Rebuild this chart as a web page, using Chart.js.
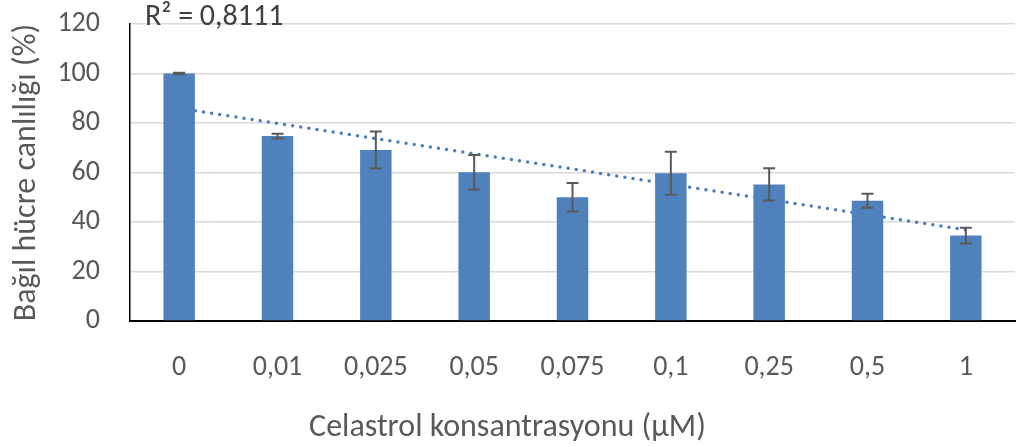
<!DOCTYPE html>
<html>
<head>
<meta charset="utf-8">
<script src="https://cdn.jsdelivr.net/npm/chart.js@4.4.1/dist/chart.umd.min.js"></script>
<style>
  html, body { margin: 0; padding: 0; background: #fff; }
</style>
</head>
<body>
<canvas id="viability" width="1025" height="447"></canvas>
<script>
// Celastrol dose vs relative viability

const concentrations = ['0', '0,01', '0,025', '0,05', '0,075', '0,1', '0,25', '0,5', '1'];
const viability = [100, 74.7, 69.1, 60.1, 50.0, 59.7, 55.2, 48.6, 34.5];
const viabilityErr = [0.3, 1.0, 7.5, 7.0, 5.8, 8.7, 6.5, 2.8, 3.2];
const trendEnds = [86.0, 36.8];   // linear trendline, first and last category
const yTicks = [0, 20, 40, 60, 80, 100, 120];
const rSquared = 'R² = 0,8111';

const fontFamily = "Carlito, Lato, 'Open Sans', sans-serif";
const textColor = '#595959';
const barBlue = '#4f81bd';

// whiskers on top of the bars
const errorBars = {
  id: 'errorBars',
  afterDatasetsDraw(chart) {
    const meta = chart.getDatasetMeta(0);
    const y = chart.scales.y;
    const ctx = chart.ctx;
    ctx.save();
    ctx.strokeStyle = '#595959';
    ctx.lineWidth = 2;
    meta.data.forEach((bar, i) => {
      const top = y.getPixelForValue(viability[i] + viabilityErr[i]);
      const bot = y.getPixelForValue(viability[i] - viabilityErr[i]);
      ctx.beginPath();
      ctx.moveTo(bar.x, top);
      ctx.lineTo(bar.x, bot);
      ctx.moveTo(bar.x - 6, top);
      ctx.lineTo(bar.x + 6, top);
      ctx.moveTo(bar.x - 6, bot);
      ctx.lineTo(bar.x + 6, bot);
      ctx.stroke();
    });
    ctx.restore();
  }
};

const rLabel = {
  id: 'rLabel',
  afterDraw(chart) {
    const ctx = chart.ctx;
    ctx.save();
    ctx.font = '30px ' + fontFamily;
    ctx.fillStyle = '#404040';
    ctx.textBaseline = 'middle';
    ctx.fillText(rSquared, chart.chartArea.left + 15, 17);
    ctx.restore();
  }
};

new Chart(document.getElementById('viability'), {
  data: {
    labels: concentrations,
    datasets: [
      {
        type: 'bar',
        data: viability,
        backgroundColor: barBlue,
        barPercentage: 0.32,
        categoryPercentage: 1,
        grouped: false,
        order: 1
      },
      {
        type: 'line',
        xAxisID: 'xt',
        data: [{ x: 0, y: trendEnds[0] }, { x: concentrations.length - 1, y: trendEnds[1] }],
        borderColor: '#4a7ebb',
        borderWidth: 3.5,
        borderDash: [0, 8.2],
        borderCapStyle: 'round',
        pointRadius: 0,
        fill: false,
        order: 2
      }
    ]
  },
  options: {
    responsive: false,
    animation: false,
    devicePixelRatio: 1,
    layout: { autoPadding: false, padding: { top: 24, right: 10, left: 0, bottom: 0 } },
    plugins: {
      legend: { display: false },
      tooltip: { enabled: false },
      title: {
        display: true,
        position: 'bottom',
        text: 'Celastrol konsantrasyonu (μM)',
        color: textColor,
        font: { family: fontFamily, size: 32, weight: 'normal' },
        padding: { top: 0, bottom: 0 }
      }
    },
    scales: {
      x: {
        type: 'category',
        offset: true,
        grid: { display: false },
        border: { display: true, color: '#000', width: 2 },
        ticks: { color: textColor, font: { family: fontFamily, size: 28 }, padding: 22, maxRotation: 0 },
        afterFit(scale) { scale.height = 87.6; scale.paddingTop = 0; }
      },
      xt: {
        type: 'linear',
        display: false,
        min: -0.5,
        max: concentrations.length - 0.5
      },
      y: {
        min: 0,
        max: 120,
        afterBuildTicks(scale) { scale.ticks = yTicks.map(v => ({ value: v })); },
        grid: { color: '#d9d9d9', lineWidth: 1.5, drawTicks: false },
        border: { display: true, color: '#000', width: 1.5 },
        ticks: { color: textColor, font: { family: fontFamily, size: 28 }, padding: 30 },
        title: {
          display: true,
          text: 'Bağıl hücre canlılığı (%)',
          color: textColor,
          font: { family: fontFamily, size: 32 },
          padding: { top: 8, bottom: 0 }
        },
        afterFit(scale) { scale.width = 130; scale.paddingTop = 0; scale.paddingBottom = 0; }
      }
    }
  },
  plugins: [errorBars, rLabel]
});
</script>
</body>
</html>
